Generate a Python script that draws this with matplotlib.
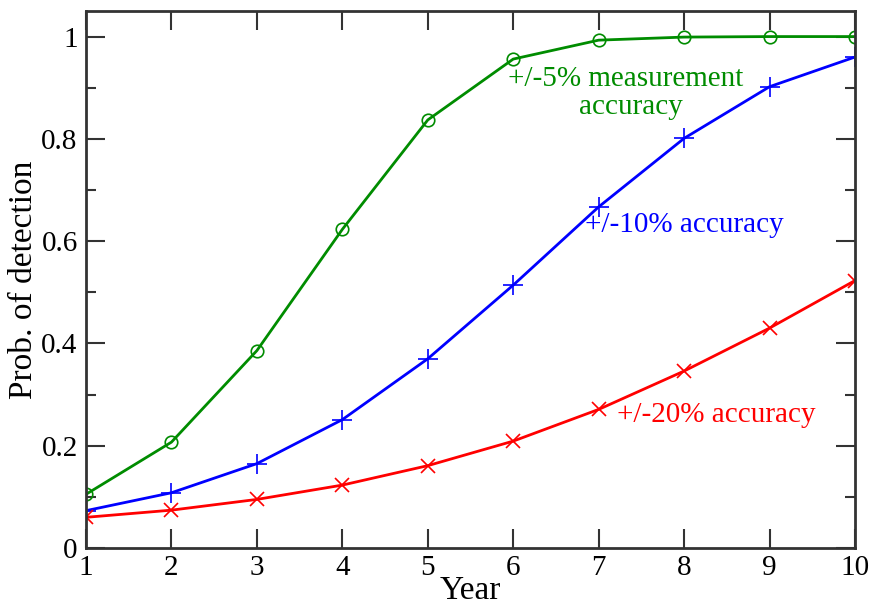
import matplotlib
matplotlib.use("Agg")
import matplotlib.pyplot as plt
from matplotlib.ticker import MultipleLocator

years = [1, 2, 3, 4, 5, 6, 7, 8, 9, 10]
acc5 = [0.105, 0.207, 0.386, 0.623, 0.837, 0.956, 0.993, 0.999, 1.0, 1.0]
acc10 = [0.073, 0.108, 0.165, 0.251, 0.370, 0.514, 0.667, 0.801, 0.902, 0.960]
acc20 = [0.060, 0.074, 0.095, 0.123, 0.161, 0.209, 0.271, 0.346, 0.430, 0.523]
label5 = ["+/-5% measurement", "accuracy"]
label10 = "+/-10% accuracy"
label20 = "+/-20% accuracy"

plt.rcParams['font.family'] = ['Liberation Serif', 'DejaVu Serif']
fig = plt.figure(figsize=(8.72, 6.09), dpi=100)
ax = fig.add_axes([86/872, 1-548/609, (855-86)/872, (548-11)/609])

green, blue, red = '#008c00', '#0000ff', '#ff0000'
ax.plot(years, acc5, color=green, lw=2, marker='o', ms=9, mfc='none', mec=green, mew=1.2)
ax.plot(years, acc10, color=blue, lw=2, marker='+', ms=14, mec=blue, mew=1.2)
ax.plot(years, acc20, color=red, lw=2, marker='x', ms=10, mec=red, mew=1.2)

ax.set_xlim(1, 10)
ax.set_ylim(0, 1.05)
ax.xaxis.set_major_locator(MultipleLocator(1))
ax.yaxis.set_minor_locator(MultipleLocator(0.1))
yt = [0, 0.2, 0.4, 0.6, 0.8, 1.0]
ax.set_yticks(yt)
ax.set_yticklabels(['0', '0.2', '0.4', '0.6', '0.8', '1'])
ax.tick_params(which='both', direction='in', top=True, right=True, colors='#333333',
               labelcolor='black', labelsize=21, width=1.5)
ax.tick_params(which='major', length=14)
ax.tick_params(which='minor', length=7)
ax.tick_params(axis='x', pad=5)
ax.tick_params(axis='y', pad=6)
for s in ax.spines.values():
    s.set_linewidth(2)
    s.set_color('#333333')

ax.set_xlabel('Year', fontsize=24, labelpad=-4)
ax.set_ylabel('Prob. of detection', fontsize=24, labelpad=2)

ax.text(7.32, 0.918, label5[0], color=green, fontsize=21, ha='center', va='center')
ax.text(7.38, 0.862, label5[1], color=green, fontsize=21, ha='center', va='center')
ax.text(6.84, 0.631, label10, color=blue, fontsize=21, ha='left', va='center')
ax.text(7.21, 0.26, label20, color=red, fontsize=21, ha='left', va='center')

fig.savefig('out.png', dpi=100)
